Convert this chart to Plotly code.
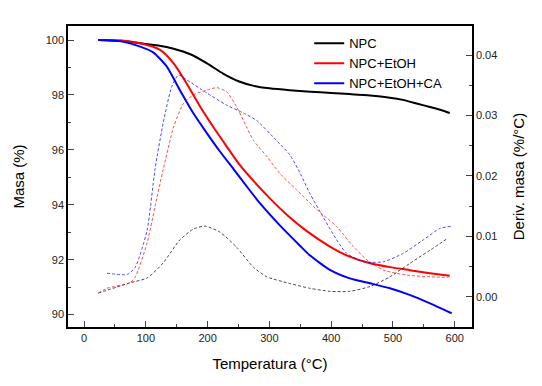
import plotly.graph_objects as go

# TG curves (mass %)
t_npc = [23, 60, 91, 120, 145, 172, 199, 225, 250, 275, 300, 333, 366, 400, 430, 463, 495, 516, 540, 560, 578, 592]
m_npc = [100, 99.97, 99.88, 99.8, 99.68, 99.48, 99.15, 98.78, 98.5, 98.33, 98.24, 98.17, 98.12, 98.07, 98.03, 97.98, 97.9, 97.82, 97.68, 97.56, 97.45, 97.34]

t_etoh = [23, 60, 91, 123, 145, 166, 188, 209, 231, 252, 275, 300, 330, 360, 398, 430, 463, 495, 527, 560, 592]
m_etoh = [100, 99.98, 99.88, 99.64, 99.15, 98.42, 97.57, 96.84, 96.12, 95.45, 94.85, 94.25, 93.6, 93.05, 92.48, 92.11, 91.87, 91.73, 91.62, 91.51, 91.42]

t_ca = [23, 60, 91, 112, 134, 155, 177, 199, 220, 242, 265, 285, 317, 350, 366, 398, 430, 463, 495, 527, 560, 595]
m_ca = [100, 99.95, 99.76, 99.55, 99.03, 98.18, 97.33, 96.6, 95.94, 95.3, 94.62, 94.05, 93.25, 92.5, 92.15, 91.63, 91.32, 91.14, 90.96, 90.72, 90.41, 90.05]

# DTG curves (%/°C)
td_npc = [23, 74, 102, 128, 155, 177, 196, 220, 247, 274, 296, 333, 366, 398, 430, 463, 495, 527, 560, 589]
d_npc = [0.0006, 0.0023, 0.0031, 0.0056, 0.0094, 0.0112, 0.0117, 0.0107, 0.0082, 0.0049, 0.0033, 0.0022, 0.0014, 0.0009, 0.0009, 0.0017, 0.0033, 0.0055, 0.0077, 0.0097]

td_etoh = [23, 37, 74, 83, 102, 115, 128, 145, 161, 177, 199, 215, 231, 247, 263, 274, 296, 317, 344, 376, 409, 436, 458, 485, 522, 560, 590]
d_etoh = [0.0006, 0.0014, 0.0023, 0.0033, 0.0089, 0.0150, 0.0210, 0.0281, 0.0320, 0.0334, 0.0342, 0.0346, 0.0339, 0.0314, 0.0281, 0.0259, 0.0232, 0.0204, 0.0177, 0.0145, 0.0116, 0.0083, 0.0061, 0.0044, 0.0036, 0.0033, 0.0032]

td_ca = [37, 70, 83, 102, 115, 128, 142, 153, 166, 199, 231, 258, 279, 312, 333, 350, 366, 387, 409, 425, 452, 485, 517, 549, 576, 597]
d_ca = [0.0039, 0.0037, 0.0049, 0.0110, 0.0212, 0.0287, 0.0348, 0.0367, 0.0359, 0.0337, 0.0317, 0.0304, 0.0292, 0.0258, 0.0235, 0.0204, 0.0170, 0.0132, 0.0094, 0.0072, 0.0058, 0.0058, 0.0072, 0.0094, 0.0113, 0.0117]

names = ["NPC", "NPC+EtOH", "NPC+EtOH+CA"]
colors = ["#000000", "#ff0000", "#0000ff"]

x_ticks = [0, 100, 200, 300, 400, 500, 600]

fig = go.Figure()
for t, m, n, c in zip([t_npc, t_etoh, t_ca], [m_npc, m_etoh, m_ca], names, colors):
    fig.add_trace(go.Scatter(x=t, y=m, name=n, mode="lines",
                             line=dict(color=c, width=2, shape="spline", smoothing=0.6)))
for t, d, n, c in zip([td_npc, td_etoh, td_ca], [d_npc, d_etoh, d_ca], names, colors):
    fig.add_trace(go.Scatter(x=t, y=d, name=n + " DTG", mode="lines", yaxis="y2",
                             showlegend=False, opacity=0.7,
                             line=dict(color=c, width=1, dash="3px,2px", shape="spline", smoothing=0.6)))

font = "Arial, Liberation Sans, sans-serif"
# the page body has an 8px default margin, so the figure is offset by 8px
fig.update_layout(
    width=534, height=378,
    margin=dict(l=60, r=70, t=18, b=59),
    paper_bgcolor="white", plot_bgcolor="white",
    font=dict(family=font, size=11, color="#222"),
    showlegend=True,
    legend=dict(x=0.597, y=0.992, xanchor="left", yanchor="top",
                bgcolor="rgba(0,0,0,0)", font=dict(size=13, color="#000"),
                tracegroupgap=0, itemwidth=30),
    xaxis=dict(range=[-26, 628], tickvals=x_ticks, ticks="inside", ticklen=6,
               showline=True, linecolor="#000", linewidth=1.5, mirror=True,
               showgrid=False, zeroline=False, automargin=False,
               minor=dict(ticks="inside", ticklen=3, dtick=50, tick0=0, showgrid=False),
               title=dict(text="Temperatura (°C)", font=dict(size=15, color="#000"), standoff=16)),
    yaxis=dict(range=[89.55, 100.51], dtick=2, tick0=90, ticks="inside", ticklen=6,
               showline=True, linecolor="#000", linewidth=1.5,
               showgrid=False, zeroline=False, automargin=False,
               minor=dict(ticks="inside", ticklen=3, dtick=1, tick0=90, showgrid=False),
               title=dict(text="Masa (%)", font=dict(size=15, color="#000"), standoff=17)),
    yaxis2=dict(overlaying="y", side="right", range=[-0.005, 0.0448], dtick=0.01, tick0=0,
                tickformat=".2f", ticks="inside", ticklen=6,
                showline=True, linecolor="#000", linewidth=1.5,
                showgrid=False, zeroline=False, automargin=False,
                minor=dict(ticks="inside", ticklen=3, dtick=0.005, tick0=0, showgrid=False),
                title=dict(text="Deriv. masa (%/°C)", font=dict(size=15, color="#000"), standoff=17)),
)

fig.write_html("out.html")
